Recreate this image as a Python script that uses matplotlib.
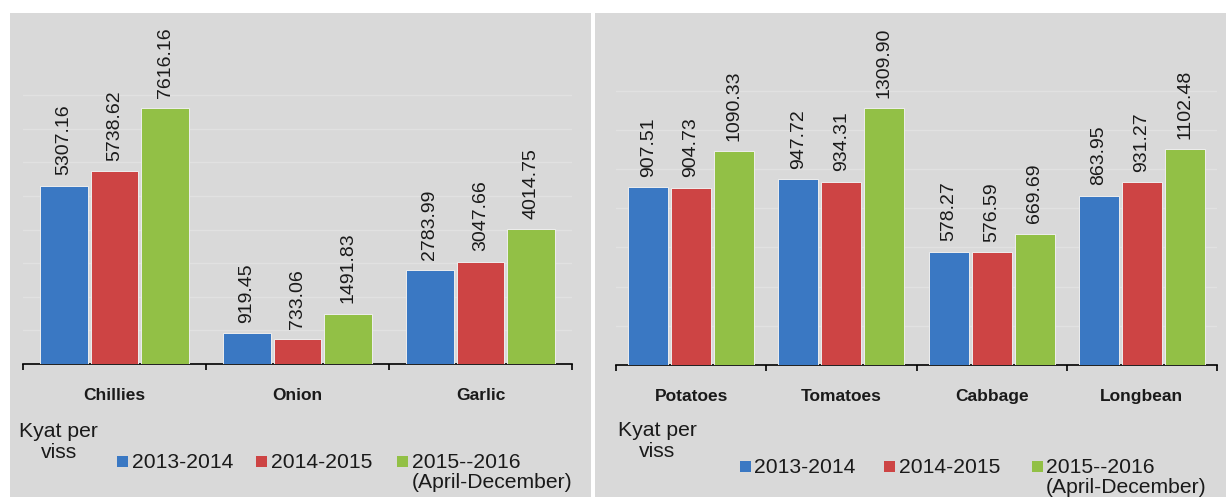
import matplotlib
matplotlib.use("Agg")
import matplotlib.pyplot as plt
from matplotlib.patches import Rectangle

# ---------------- data ----------------
series = ["2013-2014", "2014-2015", "2015--2016\n(April-December)"]
left_categories = ["Chillies", "Onion", "Garlic"]
left_2013 = [5307.16, 919.45, 2783.99]
left_2014 = [5738.62, 733.06, 3047.66]
left_2015 = [7616.16, 1491.83, 4014.75]

right_categories = ["Potatoes", "Tomatoes", "Cabbage", "Longbean"]
right_2013 = [907.51, 947.72, 578.27, 863.95]
right_2014 = [904.73, 934.31, 576.59, 931.27]
right_2015 = [1090.33, 1309.90, 669.69, 1102.48]

unit_label = "Kyat per\nviss"
colors = ["#3a78c3", "#cd4444", "#92c046"]

# ---------------- figure ----------------
W, H = 1226, 497
DPI = 100
plt.rcParams["font.family"] = ["Liberation Sans", "DejaVu Sans"]
fig = plt.figure(figsize=(W / DPI, H / DPI), dpi=DPI)
fig.patch.set_facecolor("white")

def fx(x):
    return x / W

def fy(y):
    return 1 - y / H

BG = "#d9d9d9"
# panel backgrounds
fig.patches.append(Rectangle((fx(10), 0), fx(591) - fx(10), fy(13), transform=fig.transFigure,
                             facecolor=BG, edgecolor="none", zorder=-10))
fig.patches.append(Rectangle((fx(595), 0), fx(1226) - fx(595), fy(13), transform=fig.transFigure,
                             facecolor=BG, edgecolor="none", zorder=-10))


def draw_panel(x0, x1, base_y, top_y, cats, values, ymax, grid_step, bar_w, bar_off,
               legend_cfg):
    ax = fig.add_axes([fx(x0), fy(base_y), fx(x1) - fx(x0), fy(top_y) - fy(base_y)])
    ax.set_facecolor("none")
    ax.set_zorder(1)
    n = len(cats)
    xs = list(range(n))
    for k, (vals, col) in enumerate(zip(values, colors)):
        pos = [x + (k - 1) * bar_off for x in xs]
        bars = ax.bar(pos, vals, width=bar_w, color=col, edgecolor="#eeeeee",
                      linewidth=0.7, zorder=3)
        for b, v in zip(bars, vals):
            ax.annotate(f"{v:.2f}", (b.get_x() + b.get_width() / 2, b.get_height()),
                        xytext=(0, 7.5), textcoords="offset points",
                        rotation=90, ha="center", va="bottom", fontsize=14,
                        color="#1a1a1a", zorder=4)
    ax.set_xlim(-0.5, n - 0.5)
    ax.set_ylim(0, ymax)
    for s in ["top", "left", "right"]:
        ax.spines[s].set_visible(False)
    ax.spines["bottom"].set_color("black")
    ax.spines["bottom"].set_linewidth(1.2)
    ax.set_yticks([])
    ax.set_xticks([i - 0.5 for i in range(n + 1)])
    ax.set_xticklabels([])
    ax.tick_params(axis="x", which="major", direction="out", length=4, width=1.2, color="black")
    ax.set_xticks(xs, minor=True)
    ax.set_xticklabels(cats, minor=True, fontsize=12.5, fontweight="bold", color="#1a1a1a")
    ax.tick_params(axis="x", which="minor", length=0, pad=17)
    # faint gridlines
    g = grid_step
    while g < ymax * 0.8:
        ax.axhline(g, color="#e1e1e1", linewidth=1.0, zorder=1)
        g += grid_step

    # legend (manual)
    kx, ky1, ky2, vx, entries = legend_cfg
    fig.text(fx(kx), fy(ky1), unit_label.split("\n")[0], fontsize=15.2, va="baseline",
             ha="left", color="#1a1a1a")
    fig.text(fx(vx), fy(ky2), unit_label.split("\n")[1], fontsize=15.2, va="baseline",
             ha="left", color="#1a1a1a")
    for (sqx, sqy, tx, ty), name, col in zip(entries, series, colors):
        fig.patches.append(Rectangle((fx(sqx), fy(sqy + 11)), 11 / W, 11 / H,
                                     transform=fig.transFigure, facecolor=col,
                                     edgecolor="none", zorder=2))
        lines = name.split("\n")
        for li, line in enumerate(lines):
            fig.text(fx(tx), fy(ty + li * 20), line, fontsize=15.2, va="baseline",
                     ha="left", color="#1a1a1a")
    return ax


draw_panel(23, 572, 364, 13, left_categories, [left_2013, left_2014, left_2015],
           10442, 1000, 0.262, 0.276,
           (19, 437, 458, 41,
            [(117, 456, 132, 468), (256, 456, 271, 468), (397, 456, 412, 468)]))

draw_panel(616, 1217, 365, 13, right_categories, [right_2013, right_2014, right_2015],
           1796, 200, 0.266, 0.286,
           (618, 436, 457, 639,
            [(740, 461, 754, 473), (884, 461, 899, 473), (1032, 461, 1046, 473)]))

fig.savefig("out.png", dpi=DPI)
